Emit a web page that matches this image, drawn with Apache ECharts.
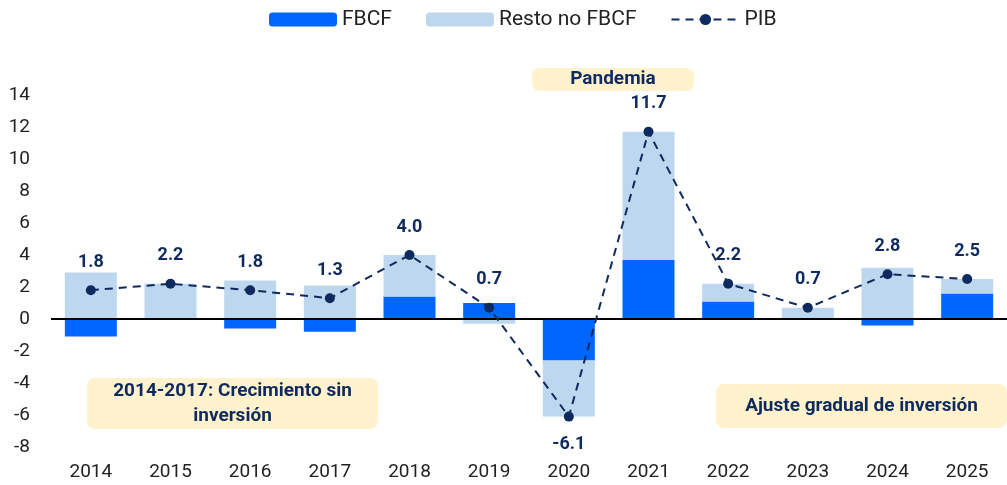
<!DOCTYPE html>
<html>
<head>
<meta charset="utf-8">
<script src="https://cdn.jsdelivr.net/npm/echarts@6/dist/echarts.min.js"></script>
<style>
  html, body { margin: 0; padding: 0; background: #fff; }
  #chart { width: 1007px; height: 485px; }
</style>
</head>
<body>
<div id="chart"></div>
<script>
// years on the x axis
const years = ['2014', '2015', '2016', '2017', '2018', '2019', '2020', '2021', '2022', '2023', '2024', '2025'];
// contribution of gross fixed capital formation
const fbcf = [-1.1, 0.0, -0.6, -0.8, 1.4, 1.0, -2.6, 3.7, 1.1, 0.0, -0.4, 1.6];
// rest of the components
const resto = [2.9, 2.2, 2.4, 2.1, 2.6, -0.3, -3.5, 8.0, 1.1, 0.7, 3.2, 0.9];
// GDP growth
const pib = [1.8, 2.2, 1.8, 1.3, 4.0, 0.7, -6.1, 11.7, 2.2, 0.7, 2.8, 2.5];
const yTicks = [-8, 14, 2];

const navy = '#0E2A5E';
const font = 'Roboto';

const chart = echarts.init(document.getElementById('chart'));

// little yellow boxes with notes
function note(x, y, w, h, text) {
  return {
    type: 'group',
    left: x, top: y,
    children: [
      { type: 'rect', shape: { x: 0, y: 0, width: w, height: h, r: 8 }, style: { fill: '#FFF2CC' } },
      {
        type: 'text', x: w / 2, y: h / 2,
        style: {
          text: text, fill: navy, font: 'bold 19px ' + font,
          align: 'center', verticalAlign: 'middle', lineHeight: 25
        }
      }
    ]
  };
}

const option = {
  animation: false,
  textStyle: { fontFamily: font },
  legend: {
    top: 4,
    left: 264,
    itemWidth: 68,
    itemHeight: 14,
    itemGap: 34,
    textStyle: { fontSize: 21, color: '#222', fontFamily: font },
    data: ['FBCF', 'Resto no FBCF', 'PIB']
  },
  grid: { left: 51, right: -9, top: 95, bottom: 38 },
  xAxis: {
    type: 'category',
    data: years,
    axisLine: { show: false },
    axisTick: { show: false },
    axisLabel: { fontSize: 19, color: '#222', margin: 16 }
  },
  yAxis: {
    type: 'value',
    min: yTicks[0], max: yTicks[1], interval: yTicks[2],
    splitLine: { show: false },
    axisLine: { show: false },
    axisTick: { show: false },
    axisLabel: { fontSize: 19, color: '#222', margin: 21 }
  },
  series: [
    {
      name: 'FBCF', type: 'bar', stack: 'c', barWidth: 52,
      itemStyle: { color: '#0066FF' },
      data: fbcf,
      markLine: {
        silent: true, symbol: 'none', label: { show: false },
        lineStyle: { color: '#000', width: 2, type: 'solid' },
        data: [{ yAxis: 0 }]
      }
    },
    {
      name: 'Resto no FBCF', type: 'bar', stack: 'c', barWidth: 52,
      itemStyle: { color: '#BDD7EE' },
      data: resto
    },
    {
      name: 'PIB', type: 'line', z: 5,
      symbol: 'circle', symbolSize: 10,
      lineStyle: { color: navy, width: 2, type: [8, 6] },
      itemStyle: { color: navy },
      label: {
        show: true, position: 'top', distance: 14,
        fontSize: 18, fontWeight: 'bold', color: navy,
        formatter: p => p.value.toFixed(1)
      },
      data: pib.map(v => v < 0 ? { value: v, label: { position: 'bottom' } } : v)
    }
  ],
  graphic: [
    note(87, 378, 291, 51, '2014-2017: Crecimiento sin\ninversión'),
    note(532, 67, 162, 23, 'Pandemia'),
    note(716, 384, 291, 44, 'Ajuste gradual de inversión')
  ]
};

chart.setOption(option);
</script>
</body>
</html>
